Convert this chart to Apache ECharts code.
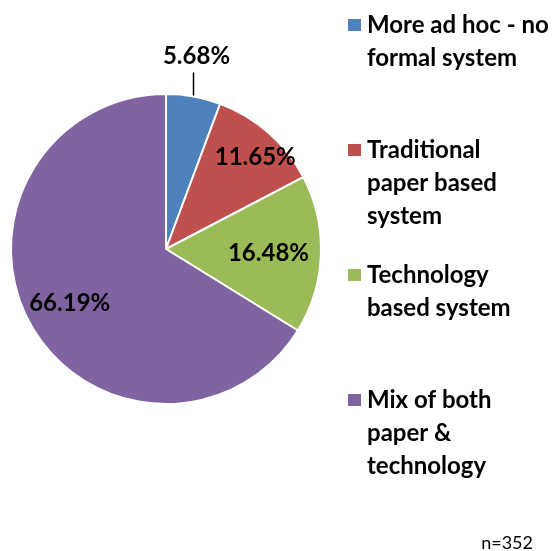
<!DOCTYPE html>
<html>
<head>
<meta charset="utf-8">
<script src="https://cdn.jsdelivr.net/npm/echarts@6/dist/echarts.min.js"></script>
<style>
  html, body { margin: 0; padding: 0; background: #fff; }
  #chart { width: 558px; height: 551px; }
</style>
</head>
<body>
<div id="chart"></div>
<script>
// Record-keeping approach, share of respondents (n=352)
const categories = [
  'More ad hoc - no formal system',
  'Traditional paper based system',
  'Technology based system',
  'Mix of both paper & technology'
];
const legendLines = [
  ['More ad hoc - no', 'formal system'],
  ['Traditional', 'paper based', 'system'],
  ['Technology', 'based system'],
  ['Mix of both', 'paper &', 'technology']
];
const percentValues = [5.68, 11.65, 16.48, 66.19];
const sliceColors = ['#4F81BD', '#C0504D', '#9BBB59', '#8064A2'];
const sampleNote = 'n=352';

const FONT = 'Lato, "Open Sans", sans-serif';
const LINE_H = 33;
const legendIconCenters = [25, 150, 275, 400];
// nudges for the inside labels, relative to the slice midpoint
const labelOffsets = [null, [36, -31], [22, 1], [-26, 15]];

const chart = echarts.init(document.getElementById('chart'), null, { renderer: 'canvas' });

// one legend block per category so every entry keeps its own vertical slot;
// leading blank lines keep the swatch level with the first text line
const legends = categories.map((name, i) => {
  const lines = legendLines[i];
  const total = 2 * lines.length - 1;
  return {
    data: [name],
    orient: 'vertical',
    left: 346,
    top: legendIconCenters[i] - total * LINE_H / 2,
    padding: 0,
    itemWidth: 15,
    itemHeight: 14,
    icon: 'rect',
    selectedMode: false,
    formatter: () => '\n'.repeat(lines.length - 1) + lines.join('\n'),
    textStyle: {
      fontFamily: FONT,
      fontWeight: 'bold',
      fontSize: 24,
      lineHeight: LINE_H,
      color: '#000'
    }
  };
});

chart.setOption({
  animation: false,
  backgroundColor: '#fff',
  color: sliceColors,
  title: {
    text: sampleNote,
    right: 25,
    top: 534,
    padding: 0,
    textStyle: { fontFamily: FONT, fontWeight: 'normal', fontSize: 18, color: '#000' }
  },
  legend: legends,
  series: [{
    type: 'pie',
    center: [166, 249],
    radius: 155,
    startAngle: 90,
    clockwise: true,
    avoidLabelOverlap: false,
    emphasis: { disabled: true },
    itemStyle: { borderColor: '#fff', borderWidth: 2 },
    label: {
      fontFamily: FONT,
      fontWeight: 'bold',
      fontSize: 24,
      color: '#000',
      formatter: p => p.value.toFixed(2) + '%'
    },
    labelLine: { lineStyle: { color: '#000', width: 1.5 } },
    labelLayout: function (params) {
      if (params.dataIndex !== 0 || !params.labelLinePoints) return {};
      const start = params.labelLinePoints[0];
      return {
        x: start[0] + 3,
        y: start[1] - 40,
        align: 'center',
        verticalAlign: 'middle',
        labelLinePoints: [[start[0], start[1]], [start[0], start[1] - 24], [start[0], start[1] - 24]]
      };
    },
    data: categories.map((name, i) => {
      const item = { name: name, value: percentValues[i] };
      if (i === 0) {
        item.label = { position: 'outside' };
        item.labelLine = { show: true, length: 24, length2: 0 };
      } else {
        item.label = { position: 'inside', offset: labelOffsets[i] };
        item.labelLine = { show: false };
      }
      return item;
    })
  }]
});
</script>
</body>
</html>
